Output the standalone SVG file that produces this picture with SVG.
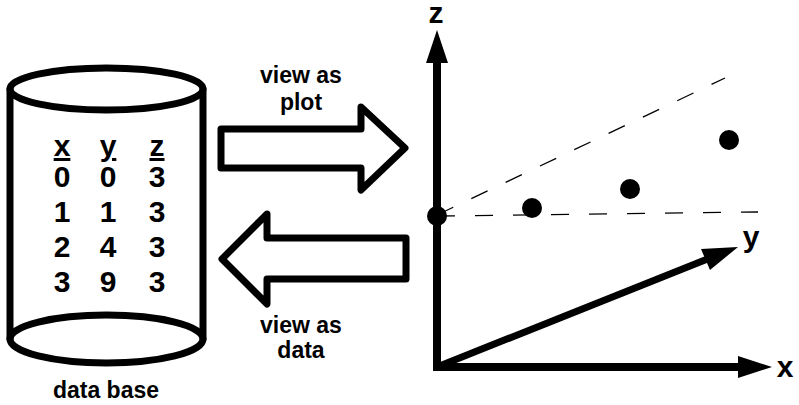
<svg xmlns="http://www.w3.org/2000/svg" width="799" height="405" viewBox="0 0 799 405">
<style>
.thick{fill:none;stroke:#000;stroke-width:7;stroke-linejoin:round;stroke-linecap:round}
.axis{fill:none;stroke:#000;stroke-width:8}
.dash{fill:none;stroke:#000;stroke-width:1.3;stroke-dasharray:18 20}
.t{font-family:"Liberation Sans",Arial,sans-serif;font-weight:bold;fill:#000}
.tb{font-size:30px;text-anchor:middle}
.lb{font-size:23px;text-anchor:middle}
.ax{font-size:30px;text-anchor:middle}
</style>
<rect width="799" height="405" fill="#fff"/>
<g id="database">
<path class="thick" d="M10,89 V339 M203,89 V339"/>
<ellipse class="thick" cx="106.5" cy="89" rx="96.5" ry="21" fill="#fff"/>
<path class="thick" d="M10,339 A96.5,24 0 0 1 203,339 A96.5,24 0 0 1 10,339"/>
<g class="t tb">
<text x="62" y="156" text-decoration="underline">x</text>
<text x="108" y="156" text-decoration="underline">y</text>
<text x="157" y="156" text-decoration="underline">z</text>
<text x="62" y="187">0</text><text x="108" y="187">0</text><text x="157" y="187">3</text>
<text x="62" y="222">1</text><text x="108" y="222">1</text><text x="157" y="222">3</text>
<text x="62" y="257">2</text><text x="108" y="257">4</text><text x="157" y="257">3</text>
<text x="62" y="292">3</text><text x="108" y="292">9</text><text x="157" y="292">3</text>
</g>
<text class="t lb" x="106" y="398">data base</text>
</g>
<g id="connectors">
<g id="to-plot">
<path class="thick" d="M221,129 H361 V107 L405,148 L361,190 V168 H221 Z"/>
<text class="t lb" x="301" y="83">view as</text>
<text class="t lb" x="301" y="110">plot</text>
</g>
<g id="to-data">
<path class="thick" d="M406,238 H267 V214 L222,259 L267,304 V279 H406 Z"/>
<text class="t lb" x="301" y="333">view as</text>
<text class="t lb" x="301" y="358">data</text>
</g>
</g>
<g id="plot">
<line class="dash" x1="437" y1="215" x2="725" y2="78"/>
<line class="dash" x1="437" y1="216" x2="758" y2="212"/>
<line class="axis" x1="437" y1="370" x2="437" y2="60"/>
<polygon points="437,30 448,63 426,63" fill="#000"/>
<line class="axis" x1="433" y1="367" x2="742" y2="367"/>
<polygon points="772,367 738,356 738,378" fill="#000"/>
<line x1="437" y1="367" x2="710" y2="258" stroke="#000" stroke-width="7"/>
<polygon points="738,247 710,270 701,249" fill="#000"/>
<text class="t ax" x="436" y="23">z</text>
<text class="t ax" x="751" y="247">y</text>
<text class="t ax" x="785" y="377">x</text>
<circle cx="437" cy="216" r="10"/>
<circle cx="532" cy="208" r="10"/>
<circle cx="630" cy="189" r="10"/>
<circle cx="729" cy="140" r="10"/>
</g>
</svg>
